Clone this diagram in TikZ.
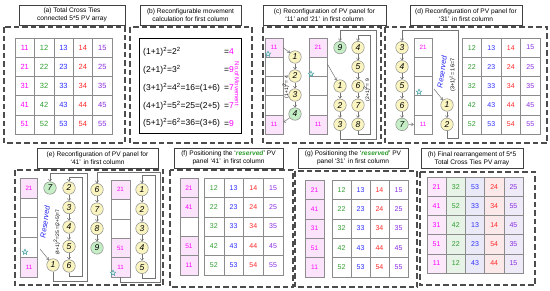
\documentclass[tikz,border=0pt]{standalone}
\usepackage{fontspec}
\setmainfont{Liberation Sans}
\usetikzlibrary{arrows.meta, shapes.geometric}
\definecolor{pvc1}{HTML}{FF00FF}
\definecolor{pvc2}{HTML}{2E9E2E}
\definecolor{pvc3}{HTML}{2F2FFF}
\definecolor{pvc4}{HTML}{FF2A2A}
\definecolor{pvc5}{HTML}{8A2BE2}
\definecolor{pvpink}{HTML}{FBE4FB}
\definecolor{pvyellow}{HTML}{FAF5C0}
\definecolor{pvlime}{HTML}{C6EEC6}
\definecolor{pvres}{HTML}{2222EE}
\definecolor{hfill1}{HTML}{FBE8FB}
\definecolor{hfill2}{HTML}{E6F3E6}
\definecolor{hfill3}{HTML}{E9E9F8}
\definecolor{hfill4}{HTML}{FBE9E9}
\definecolor{hfill5}{HTML}{EEEAF8}

\begin{document}
\begin{tikzpicture}[
  x=1pt, y=-1pt,
  >={Straight Barb[length=2pt,width=3.2pt]},
  heading/.style={
    rectangle, draw=black!75, line width=1pt, fill=white,
    minimum height=20pt, inner sep=1pt, align=center,
    font=\fontsize{6.6}{8}\selectfont
  },
  panelbox/.style={draw=black!70, line width=1.2pt, dash pattern=on 5.5pt off 3pt},
  cell/.style={
    rectangle, draw=black!45, line width=0.5pt, inner sep=0pt,
    font=\fontsize{7}{8}\selectfont
  },
  slot/.style={
    cell, minimum width=18pt, minimum height=19.2pt, text=pvc1,
    font=\fontsize{6.2}{7}\selectfont
  },
  filled/.style={fill=pvpink},
  plain/.style={},
  pv/.style={
    circle, draw=black!45, line width=0.5pt, fill=pvyellow,
    minimum size=12.5pt, inner sep=0pt, font=\fontsize{8.5}{9}\selectfont\itshape
  },
  pvend/.style={pv, fill=pvlime},
  flow/.style={->, draw=black!55, line width=0.5pt},
  starmark/.style={
    star, star points=5, star point ratio=2.3, draw=teal!80, fill=teal!15,
    line width=0.4pt, minimum size=6pt, inner sep=0pt
  },
  moves/.style={font=\fontsize{5}{6}\selectfont, rotate=90, inner sep=0.5pt},
  reserved/.style={font=\fontsize{7.5}{9}\selectfont\itshape, text=pvres, rotate=82, inner sep=0.5pt},
  eqline/.style={font=\fontsize{8.5}{10}\selectfont, anchor=west, inner sep=0pt},
]
\useasboundingbox (0,0) rectangle (550,290);

% Panel (a)
\node[heading, minimum width=106pt] (ta) at (72,15) {(a) Total Cross Ties\\connected 5*5 PV array};
\draw[panelbox] (4,27) rectangle (125,143);
\foreach \r in {1,...,5}
  \foreach \c in {1,...,5}
    \node[cell, text=pvc\c, minimum width=19.4pt, minimum height=19.2pt, font=\fontsize{7.5}{8}\selectfont]
      (a\r\c) at ({15+19.4*(\c-0.5)}, {38+19.2*(\r-0.5)}) {\r\c};

% Panel (b)
\node[heading, minimum width=101pt] (tb) at (190.5,15) {(b) Reconfigurable movement\\calculation for first column};
\draw[panelbox] (130,27) rectangle (252,143);
\node[draw=black, line width=1pt, minimum width=102pt, minimum height=95pt] (bbox) at (190,85.5) {};
\foreach \l/\v [count=\i] in {
    {(1+1)\textsuperscript{2}=2\textsuperscript{2}}/4,
    {(2+1)\textsuperscript{2}=3\textsuperscript{2}}/9,
    {(3+1)\textsuperscript{2}=4\textsuperscript{2}=16=(1+6)}/7,
    {(4+1)\textsuperscript{2}=5\textsuperscript{2}=25=(2+5)}/7,
    {(5+1)\textsuperscript{2}=6\textsuperscript{2}=36=(3+6)}/9} {
  \node[eqline] (b\i) at (143, {52+17.8*(\i-1)}) {\l};
  \node[eqline, anchor=east] (bv\i) at (234, {52+17.8*(\i-1)}) {=\textcolor{pvc1}{\v}};
}
\node[font=\fontsize{6}{7}\selectfont, text=pvc1, rotate=-90, inner sep=0pt] (bnote) at (237,84) {No.of Movement};

% Panel (c)
\node[heading, minimum width=123pt] (tc) at (324.5,15) {(c) Reconfiguration of PV panel for\\`11' and `21'\, in first column};
\draw[panelbox] (263,27) rectangle (381,143);
\foreach \t/\s [count=\i] in {11/filled, /plain, /plain, /plain, 11/filled}
  \node[slot, \s] (cl\i) at (274, {38+19.2*(\i-0.5)}) {\t};
\node[starmark] (cls) at (268,54) {};
\foreach \n/\y in {1/57, 2/76, 3/95}
  \node[pv] (cL\n) at (295,\y) {\n};
\node[pvend] (cL4) at (295,114) {4};
\foreach \i/\j in {1/2, 2/3, 3/4}
  \draw[flow] (cL\i) -- (cL\j);
\draw[flow] (cl1.east) -- (cL1);
\draw[flow] (cL4) -- ([yshift=2pt]cl5.east);
\node[moves] (cLm) at (286,87) {(1+1)\textsuperscript{2}= 4};

\foreach \t/\s [count=\i] in {21/filled, /plain, /plain, /plain, 11/filled}
  \node[slot, \s] (cr\i) at (318, {38+19.2*(\i-0.5)}) {\t};
\node[starmark] (crs) at (311,74) {};
\node[pvend] (cR9) at (340,47.6) {9};
\foreach \n/\r in {1/3, 2/4, 3/5}
  \node[pv] (cR\n) at (340, {38+19.2*(\r-0.5)}) {\n};
\foreach \n/\r in {4/1, 5/2, 6/3, 7/4, 8/5}
  \node[pv] (cR\n) at (358, {38+19.2*(\r-0.5)}) {\n};
\foreach \i/\j in {1/2, 2/3, 4/5, 5/6, 6/7, 7/8}
  \draw[flow] (cR\i) -- (cR\j);
\draw[flow] ([yshift=3pt]cr2.east) -- (cR1);
\draw[flow] (cR3.south) |- (376,139) -- (376,30) -| (cR9.north);
\draw[flow] (cR8.south) |- (370,134) -- (370,35) -| (cR4.north);
\node[moves] (cRm) at (366.8,90) {(2+1)\textsuperscript{2}= 9};

% Panel (d)
\node[heading, minimum width=112pt] (td) at (466,15) {(d) Reconfiguration of PV panel for\\`31'\, in first column};
\draw[panelbox] (385,27) rectangle (547,143);
\foreach \n/\r in {3/1, 4/2, 5/3, 6/4}
  \node[pv] (dL\n) at (402, {38+19.2*(\r-0.5)}) {\n};
\node[pvend] (dL7) at (402,124.4) {7};
\foreach \i/\j in {3/4, 4/5, 5/6, 6/7}
  \draw[flow] (dL\i) -- (dL\j);
\foreach \t/\s [count=\i] in {21/plain, /plain, /plain, /plain, 11/plain}
  \node[slot, \s] (dc\i) at (423, {38+19.2*(\i-0.5)}) {\t};
\node[starmark] (dcs) at (419,92) {};
\draw[flow] (dL7) -- (dc5.west);
\node[pv] (dR1) at (447,105) {1};
\node[pv] (dR2) at (447,124.4) {2};
\draw[flow] (dR1) -- (dR2);
\draw[flow] (dR2.south) |- (458,138) -- (458,30) -| (dL3.north);
\coordinate (dres) at (434,89);
\draw[flow] (dres) -- (dR1);
\node[reserved] (dRes) at (442,72) {Reserved};
\node[moves, font=\fontsize{5.5}{6}\selectfont] (dRm) at (452.5,75) {(3+1)\textsuperscript{2}= 16=7};
\foreach \r in {1,...,5}
  \foreach \c in {2,...,5}
    \node[cell, text=pvc\c, minimum width=19.5pt, minimum height=19.2pt]
      (d\r\c) at ({462+19.5*(\c-1.5)}, {38+19.2*(\r-0.5)}) {\r\c};

% Panel (e)
\node[heading, minimum width=121pt] (te) at (97.5,158.5) {(e) Reconfiguration of PV panel for\\`41'\, in first column};
\draw[panelbox] (15,170) rectangle (163,285);
\foreach \t/\s [count=\i] in {21/filled, /plain, /plain, /plain, 11/filled}
  \node[slot, \s, minimum width=16.6pt, minimum height=19.8pt] (ea\i) at (29, {178+19.8*(\i-0.5)}) {\t};
\node[starmark] (eas) at (25,252) {};
\node[pvend] (eA7) at (50,188) {7};
\node[pv] (eA1) at (53,265) {1};
\foreach \n/\y in {2/188, 3/207.5, 4/227, 5/246.5, 6/266}
  \node[pv] (eA\n) at (69,\y) {\n};
\foreach \i/\j in {2/3, 3/4, 4/5, 5/6}
  \draw[flow] (eA\i) -- (eA\j);
\coordinate (eres) at (40,249);
\draw[flow] (eres) -- (eA1);
\draw[flow] (eA1.south) |- (87,281) -- (87,173) -| (eA7.north);
\draw[flow] (eA6.south) |- (82,276.5) -- (82,177.5) -| (eA2.north);
\node[reserved] (eRes) at (45,222) {Reserved};
\node[moves] (eAm) at (57,232) {(4+1)\textsuperscript{2}=25 =(2+5)=7};

\foreach \n/\r in {6/1, 7/2, 8/3}
  \node[pv] (eB\n) at (97, {180+19.4*(\r-0.5)}) {\n};
\node[pvend] (eB9) at (97,247.9) {9};
\foreach \i/\j in {6/7, 7/8, 8/9}
  \draw[flow] (eB\i) -- (eB\j);
\foreach \t/\s [count=\i] in {21/filled, /plain, /plain, 51/filled, 11/filled}
  \node[slot, \s, minimum width=19pt, minimum height=19.4pt] (eb\i) at (120.5, {180+19.4*(\i-0.5)}) {\t};
\node[starmark] (ebs) at (113,273) {};
\foreach \n in {1,...,5}
  \node[pv] (eC\n) at (142, {180+19.4*(\n-0.5)}) {\n};
\foreach \i/\j in {1/2, 2/3, 3/4, 4/5}
  \draw[flow] (eC\i) -- (eC\j);
\draw[flow] (eC5.south) |- (155,278.5) -- (155,175) -| (eC1.north);
\draw[flow] (eb5.south) |- (160,282.5) -- (160,172) -| (eB6.north);

% Panel (f)
\node[heading, minimum width=109pt] (tf) at (228.5,158) {(f) Positioning the `\textcolor{pvc2}{\textbf{\textit{reserved}}}' PV\\panel `41'\, in first column};
\draw[panelbox] (170,170) rectangle (293,287);
\foreach \t/\s [count=\i] in {21/filled, 41/filled, /plain, 51/filled, 11/filled}
  \node[slot, \s, minimum height=19.4pt, font=\fontsize{6.6}{7}\selectfont] (fc\i) at (189, {178+19.4*(\i-0.5)}) {\t};
\foreach \r in {1,...,5}
  \foreach \c in {2,...,5}
    \node[cell, text=pvc\c, minimum width=19.75pt, minimum height=19.4pt]
      (f\r\c) at ({204+19.75*(\c-1.5)}, {178+19.4*(\r-0.5)}) {\r\c};

% Panel (g)
\node[heading, minimum width=110pt] (tg) at (353,158) {(g) Positioning the `\textcolor{pvc2}{\textbf{\textit{reserved}}}' PV\\panel `31'\, in first column};
\draw[panelbox] (295,171) rectangle (417,287);
\foreach \t [count=\i] in {21, 41, 31, 51, 11}
  \node[slot, filled, minimum width=19pt, minimum height=19.4pt, font=\fontsize{6.6}{7}\selectfont] (gc\i) at (314.5, {180+19.4*(\i-0.5)}) {\t};
\foreach \r in {1,...,5}
  \foreach \c in {2,...,5}
    \node[cell, text=pvc\c, minimum width=19pt, minimum height=19.4pt]
      (g\r\c) at ({332+19*(\c-1.5)}, {180+19.4*(\r-0.5)}) {\r\c};

% Panel (h)
\node[heading, minimum width=102pt] (th) at (472,158.5) {(h) Final rearrangement of 5*5\\Total Cross Ties PV array};
\draw[panelbox] (420,172) rectangle (535,285);
\foreach \row [count=\r] in {{21,32,53,24,25},{41,52,33,34,55},{31,42,13,14,45},{51,22,23,54,35},{11,12,43,44,15}}
  \foreach \v [count=\c] in \row {
    \pgfmathtruncatemacro{\d}{mod(\v,10)}
    \node[cell, fill=hfill\c, text=pvc\d, minimum width=19.2pt, minimum height=19.2pt]
      (h\r\c) at ({427+19.2*(\c-0.5)}, {177+19.2*(\r-0.5)}) {\v};
  }

\end{tikzpicture}
\end{document}
